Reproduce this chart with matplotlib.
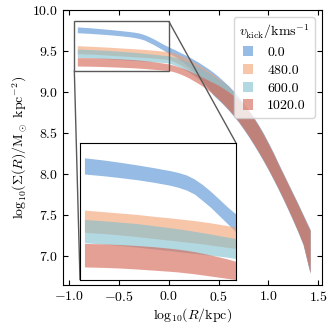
import numpy as np
import matplotlib
matplotlib.use('Agg')
import matplotlib.pyplot as plt
from mpl_toolkits.axes_grid1.inset_locator import mark_inset

plt.rcParams['font.family'] = 'serif'
plt.rcParams['font.serif'] = ['cmr10', 'DejaVu Serif']
plt.rcParams['mathtext.fontset'] = 'cm'
plt.rcParams['axes.formatter.use_mathtext'] = True
plt.rcParams['font.size'] = 10

# log10(R/kpc)
logR = [-0.92, -0.8, -0.7, -0.6, -0.5, -0.4, -0.35, -0.3, -0.25, -0.2, -0.15, -0.1, -0.05, 0.0,
        0.05, 0.1, 0.15, 0.2, 0.25, 0.3, 0.35, 0.4, 0.45, 0.5, 0.55, 0.6, 0.65, 0.7,
        0.75, 0.8, 0.85, 0.9, 0.95, 1.0, 1.05, 1.1, 1.15, 1.2, 1.25, 1.3, 1.35, 1.42]

# band limits, log10(Sigma)
v0_lo = [9.722, 9.714, 9.706, 9.697, 9.686, 9.673, 9.664, 9.652, 9.634, 9.605, 9.575, 9.54, 9.505, 9.47,
         9.44, 9.40, 9.355, 9.305, 9.245, 9.18, 9.11, 9.035, 8.955, 8.90, 8.84, 8.775, 8.705, 8.63,
         8.545, 8.455, 8.36, 8.26, 8.155, 8.045, 7.93, 7.81, 7.685, 7.555, 7.42, 7.28, 7.13, 6.78]
v0_hi = [9.793, 9.783, 9.773, 9.762, 9.750, 9.737, 9.729, 9.718, 9.70, 9.675, 9.645, 9.612, 9.578, 9.548,
         9.52, 9.49, 9.46, 9.43, 9.395, 9.36, 9.32, 9.28, 9.235, 9.185, 9.13, 9.075, 9.01, 8.94,
         8.865, 8.785, 8.695, 8.60, 8.495, 8.38, 8.26, 8.13, 8.005, 7.88, 7.755, 7.63, 7.50, 7.32]

v480_lo = [9.467, 9.461, 9.455, 9.448, 9.44, 9.432, 9.428, 9.424, 9.42, 9.416, 9.411, 9.406, 9.401, 9.396,
           9.37, 9.34, 9.305, 9.265, 9.22, 9.17, 9.115, 9.055, 8.975, 8.91, 8.85, 8.785, 8.715, 8.64,
           8.555, 8.465, 8.37, 8.27, 8.165, 8.055, 7.94, 7.82, 7.695, 7.565, 7.43, 7.29, 7.14, 6.79]
v480_hi = [9.564, 9.557, 9.551, 9.545, 9.537, 9.53, 9.526, 9.522, 9.518, 9.513, 9.508, 9.502, 9.496, 9.49,
           9.475, 9.455, 9.43, 9.40, 9.365, 9.33, 9.29, 9.25, 9.21, 9.165, 9.12, 9.065, 9.0, 8.93,
           8.855, 8.775, 8.685, 8.59, 8.485, 8.37, 8.25, 8.12, 7.995, 7.87, 7.745, 7.62, 7.49, 7.31]

v600_lo = [9.421, 9.415, 9.409, 9.402, 9.394, 9.386, 9.382, 9.378, 9.374, 9.37, 9.366, 9.362, 9.358, 9.352,
           9.33, 9.305, 9.275, 9.24, 9.20, 9.155, 9.105, 9.05, 8.975, 8.91, 8.85, 8.785, 8.715, 8.64,
           8.555, 8.465, 8.37, 8.27, 8.165, 8.055, 7.94, 7.82, 7.695, 7.565, 7.43, 7.29, 7.14, 6.79]
v600_hi = [9.523, 9.517, 9.511, 9.505, 9.496, 9.487, 9.482, 9.477, 9.471, 9.465, 9.459, 9.452, 9.446, 9.44,
           9.425, 9.405, 9.385, 9.36, 9.33, 9.30, 9.265, 9.23, 9.19, 9.15, 9.12, 9.065, 9.0, 8.93,
           8.855, 8.775, 8.685, 8.59, 8.485, 8.37, 8.25, 8.12, 7.995, 7.87, 7.745, 7.62, 7.49, 7.31]

v1020_lo = [9.315, 9.313, 9.31, 9.306, 9.301, 9.296, 9.293, 9.289, 9.285, 9.28, 9.275, 9.27, 9.265, 9.26,
            9.245, 9.225, 9.2, 9.17, 9.135, 9.10, 9.06, 9.015, 8.965, 8.91, 8.85, 8.785, 8.715, 8.64,
            8.555, 8.465, 8.37, 8.27, 8.165, 8.055, 7.94, 7.82, 7.695, 7.565, 7.43, 7.29, 7.14, 6.79]
v1020_hi = [9.418, 9.416, 9.413, 9.409, 9.404, 9.397, 9.393, 9.388, 9.382, 9.375, 9.367, 9.359, 9.35, 9.34,
            9.325, 9.305, 9.285, 9.26, 9.23, 9.20, 9.17, 9.14, 9.11, 9.08, 9.04, 9.00, 8.955, 8.905,
            8.85, 8.77, 8.68, 8.585, 8.48, 8.365, 8.245, 8.115, 7.99, 7.865, 7.74, 7.615, 7.485, 7.305]

vkick = ['0.0', '480.0', '600.0', '1020.0']
colors = ['#508fd5', '#f2a071', '#7fbecf', '#d56150']
bands = [(v0_lo, v0_hi), (v480_lo, v480_hi), (v600_lo, v600_hi), (v1020_lo, v1020_hi)]

fig = plt.figure(figsize=(3.32, 3.32), dpi=100)
ax = fig.add_axes([0.19, 0.1416, 0.78, 0.8284])

for (lo, hi), c, lab in zip(bands, colors, vkick):
    ax.fill_between(logR, lo, hi, color=c, alpha=0.6, lw=0, label=lab)

ax.set_xlim(-1.063, 1.54)
ax.set_ylim(6.64, 10.0)
ax.set_xticks([-1.0, -0.5, 0.0, 0.5, 1.0, 1.5])
ax.set_yticks([7.0, 7.5, 8.0, 8.5, 9.0, 9.5, 10.0])
ax.tick_params(direction='in', top=True, right=True)
ax.set_xlabel(r'$\mathrm{log}_{10}(R/{\rm kpc})$', labelpad=2)
ax.set_ylabel(r'$\mathrm{log}_{10}(\Sigma(R)/{\rm M_\odot\ kpc^{-2}})$', labelpad=2)
ax.legend(title=r'$v_{\rm kick}/{\rm kms^{-1}}$', loc='upper right',
          handlelength=0.75, handleheight=0.75, handletextpad=1.0,
          labelspacing=0.35, fontsize=10)

# 放大区域
axins = fig.add_axes([0.241, 0.1566, 0.47, 0.4127])
for (lo, hi), c in zip(bands, colors):
    axins.fill_between(logR, lo, hi, color=c, alpha=0.6, lw=0)
axins.set_xlim(-0.95, 0.0)
axins.set_ylim(9.26, 9.86)
axins.set_xticks([])
axins.set_yticks([])
mark_inset(ax, axins, loc1=1, loc2=3, fc='none', ec='0.35')

fig.savefig('out.png', dpi=100)
